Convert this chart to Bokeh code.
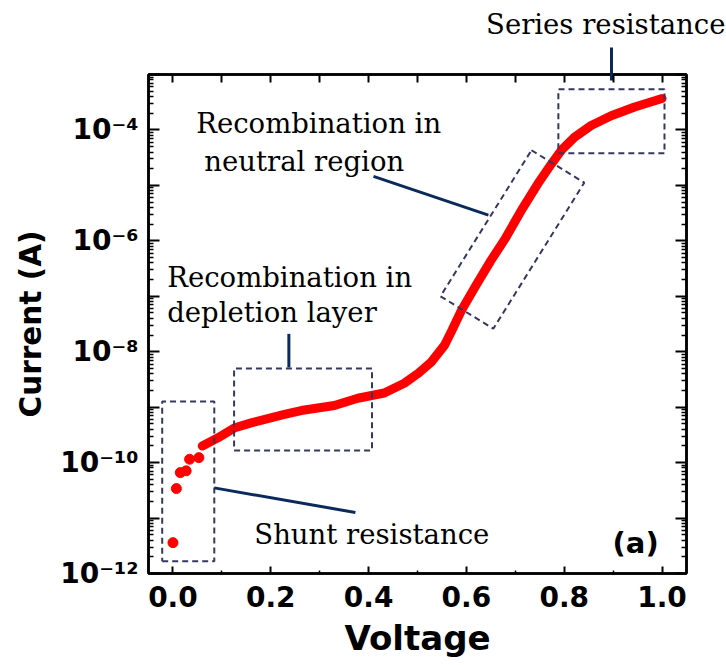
from bokeh.plotting import figure
from bokeh.models import Range1d, LogAxis, LinearAxis, FixedTicker, Label, Arrow
from bokeh.embed import file_html
from bokeh.resources import INLINE

# ---- data ----
dot_voltage = [0.000, 0.007, 0.015, 0.027, 0.034, 0.053]
dot_current = [3.6e-12, 3.4e-11, 6.6e-11, 7.1e-11, 1.15e-10, 1.23e-10]

line_voltage = [0.060, 0.092, 0.125, 0.16, 0.228, 0.262, 0.33, 0.378, 0.432, 0.473,
                0.502, 0.528, 0.555, 0.57, 0.59, 0.62, 0.65, 0.678, 0.712, 0.746,
                0.774, 0.794, 0.821, 0.855, 0.896, 0.944, 1.0]
line_current = [2.0e-10, 2.8e-10, 4.2e-10, 5.2e-10, 7.4e-10, 8.7e-10, 1.07e-9, 1.45e-9, 1.8e-9, 2.7e-9,
                 4.1e-9, 6.5e-9, 1.3e-8, 2.4e-8, 5.6e-8, 1.6e-7, 4.4e-7, 1.05e-6, 3.5e-6, 1.07e-5,
                 2.45e-5, 4.3e-5, 7.4e-5, 1.2e-4, 1.8e-4, 2.6e-4, 3.7e-4]

x_major_ticks = [0.0, 0.2, 0.4, 0.6, 0.8, 1.0]
x_minor_ticks = [0.1, 0.3, 0.5, 0.7, 0.9]
x_tick_labels = ["0.0", "0.2", "0.4", "0.6", "0.8", "1.0"]
y_decades = [-12, -11, -10, -9, -8, -7, -6, -5, -4, -3]
y_labelled = [-12, -10, -8, -6, -4]

# annotation regions (voltage, current)
shunt_box = ([-0.022, 0.0845], [1.66e-12, 1.26e-9])
depletion_box = ([0.125, 0.407], [1.66e-10, 5.0e-9])
series_box = ([0.788, 1.005], [3.8e-5, 5.4e-4])
neutral_box_v = [0.733, 0.841, 0.655, 0.547]
neutral_box_i = [4.3e-5, 1.12e-5, 2.6e-8, 1.0e-7]
series_pointer_v = 0.896

SUP = str.maketrans("-0123456789", "⁻⁰¹²³⁴⁵⁶⁷⁸⁹")

p = figure(width=726, height=665,
           x_range=Range1d(-0.05, 1.05), y_range=Range1d(1e-12, 1e-3),
           y_axis_type="log", output_backend="svg", toolbar_location=None,
           min_border_left=148, min_border_right=40, min_border_top=74, min_border_bottom=92)
p.background_fill_color = "white"
p.border_fill_color = "white"
p.outline_line_color = "black"
p.outline_line_width = 2.5
p.xgrid.visible = False
p.ygrid.visible = False

# "Series resistance" caption sits above the frame
p.title.text = "Series resistance"
p.title.align = "right"
p.title.offset = -39
p.title.standoff = 0
p.title.text_font = "DejaVu Serif"
p.title.text_font_style = "normal"
p.title.text_font_size = "27.5px"
p.title.text_color = "black"

y_major = [10.0 ** d for d in y_decades]
y_minor = [k * 10.0 ** d for d in y_decades[:-1] for k in range(2, 10)]
overrides = {10.0 ** d: ("10" + str(d).translate(SUP) if d in y_labelled else "") for d in y_decades}

# bottom axis
xa = p.xaxis[0]
xa.ticker = FixedTicker(ticks=x_major_ticks, minor_ticks=x_minor_ticks)
xa.major_label_overrides = {t: s for t, s in zip(x_major_ticks, x_tick_labels)}
xa.axis_label = "Voltage"
xa.major_tick_in = 7
xa.major_tick_out = 0
xa.minor_tick_in = 3
xa.minor_tick_out = 0
xa.major_label_standoff = 12
xa.major_label_text_font = "DejaVu Sans"
xa.major_label_text_font_style = "bold"
xa.major_label_text_font_size = "28px"
xa.major_label_text_color = "black"
xa.axis_label_text_font = "DejaVu Sans"
xa.axis_label_text_font_style = "bold"
xa.axis_label_text_font_size = "34px"
xa.axis_label_text_color = "black"
xa.axis_label_standoff = 8

ya = p.yaxis[0]
ya.ticker = FixedTicker(ticks=y_major, minor_ticks=y_minor)
ya.major_label_overrides = overrides
ya.axis_label = "Current (A)"
ya.major_tick_in = 11
ya.major_tick_out = 0
ya.minor_tick_in = 5
ya.minor_tick_out = 0
ya.major_label_standoff = 10
ya.major_label_text_font = "DejaVu Sans"
ya.major_label_text_font_style = "bold"
ya.major_label_text_font_size = "28px"
ya.major_label_text_color = "black"
ya.axis_label_text_font = "DejaVu Sans"
ya.axis_label_text_font_style = "bold"
ya.axis_label_text_font_size = "29.5px"
ya.axis_label_text_color = "black"
ya.axis_label_standoff = 9

# top axis: plain mirror ticks as minor ticks, one long navy tick as the series-resistance pointer
top_ticks = x_major_ticks + x_minor_ticks
top = LinearAxis(ticker=FixedTicker(ticks=[series_pointer_v], minor_ticks=top_ticks),
                 major_label_overrides={series_pointer_v: ""}, major_label_standoff=0,
                 major_label_text_font_size="1px",
                 major_tick_in=6, major_tick_out=27, minor_tick_in=8, minor_tick_out=0)
top.major_tick_line_color = "#0b2a5c"
top.major_tick_line_width = 3
top.minor_tick_line_width = 2
# invisible spacer axis that lifts the caption above the pointer
spacer = LinearAxis(ticker=FixedTicker(ticks=[series_pointer_v]),
                    major_label_overrides={series_pointer_v: ""}, major_label_standoff=0,
                    major_label_text_font_size="1px",
                    major_tick_in=0, major_tick_out=8, minor_tick_in=0, minor_tick_out=0,
                    major_tick_line_color=None, minor_tick_line_color=None, axis_line_color=None)
right = LogAxis(ticker=FixedTicker(ticks=y_major, minor_ticks=y_minor),
                major_label_overrides={t: "" for t in y_major}, major_label_standoff=0,
                major_tick_in=11, major_tick_out=0, minor_tick_in=5, minor_tick_out=0)
right.major_tick_line_width = 2
right.minor_tick_line_width = 1.5
p.add_layout(top, "above")
p.add_layout(spacer, "above")
p.add_layout(right, "right")

for ax in [xa, ya]:
    ax.major_tick_line_width = 2
    ax.minor_tick_line_width = 1.5
for ax in [xa, ya, top, right]:
    ax.axis_line_width = 2.5
    ax.axis_line_color = "black"

# data
p.line(line_voltage, line_current, line_color="#ff0000", line_width=9, line_cap="round", line_join="round")
p.scatter(dot_voltage, dot_current, size=10, color="#ff0000")

# dashed boxes
box_color = "#35385f"
for bv, bi in [shunt_box, depletion_box, series_box]:
    p.line([bv[0], bv[1], bv[1], bv[0], bv[0]], [bi[0], bi[0], bi[1], bi[1], bi[0]],
           line_color=box_color, line_width=2, line_dash="6 4")
p.line(neutral_box_v + neutral_box_v[:1], neutral_box_i + neutral_box_i[:1],
       line_color=box_color, line_width=2, line_dash="6 4")

# callout lines
call_color = "#0b2a5c"
callouts = [
    (0.41, 1.45e-5, 0.645, 2.9e-6),
    (0.237, 2.1e-8, 0.237, 5.2e-9),
    (0.0845, 3.5e-11, 0.373, 1.26e-11),
]
for x0, y0, x1, y1 in callouts:
    p.add_layout(Arrow(end=None, x_start=x0, y_start=y0, x_end=x1, y_end=y1,
                       line_color=call_color, line_width=3))

texts = [
    ("Recombination in", 0.0476, 9.0e-5),
    ("neutral region", 0.064, 1.86e-5),
    ("Recombination in", -0.0117, 1.55e-7),
    ("depletion layer", -0.0117, 3.6e-8),
    ("Shunt resistance", 0.1663, 3.6e-12),
]
for t, x, y in texts:
    p.add_layout(Label(x=x, y=y, y_offset=9, text=t, text_font="DejaVu Serif", text_font_size="27.5px",
                       text_color="black", text_baseline="alphabetic", text_align="left"))

p.add_layout(Label(x=0.946, y=3.5e-12, text="(a)", text_font="DejaVu Sans", text_font_style="bold",
                   text_font_size="29px", text_align="center", text_baseline="middle",
                   text_color="black"))

open("out.html", "w").write(file_html(p, INLINE))
